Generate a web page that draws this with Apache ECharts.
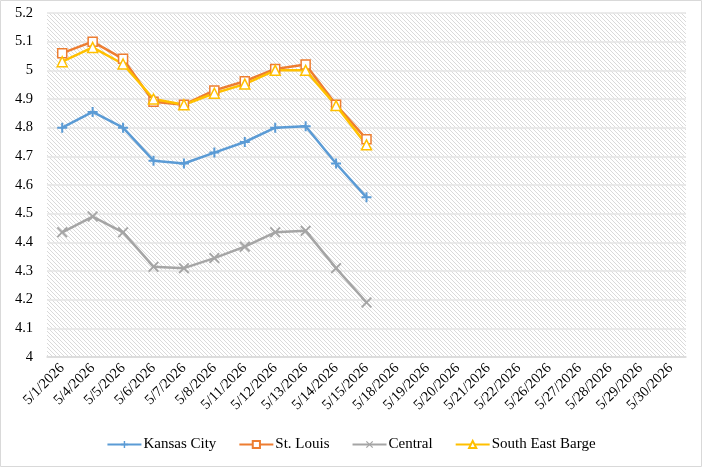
<!DOCTYPE html>
<html><head><meta charset="utf-8">
<script src="https://cdn.jsdelivr.net/npm/echarts@6/dist/echarts.min.js"></script>
<style>html,body{margin:0;padding:0;background:#fff}#c{width:702px;height:467px}</style>
</head><body><div id="c"></div>
<script>
const categories = ['5/1/2026','5/4/2026','5/5/2026','5/6/2026','5/7/2026','5/8/2026','5/11/2026','5/12/2026','5/13/2026','5/14/2026','5/15/2026','5/18/2026','5/19/2026','5/20/2026','5/21/2026','5/22/2026','5/26/2026','5/27/2026','5/28/2026','5/29/2026','5/30/2026'];
const kansasCity = [4.80,4.855,4.80,4.685,4.675,4.713,4.75,4.80,4.805,4.675,4.557];
const stLouis = [5.06,5.10,5.04,4.89,4.88,4.93,4.962,5.005,5.02,4.88,4.76];
const central = [4.435,4.49,4.435,4.315,4.31,4.345,4.385,4.435,4.44,4.31,4.19];
const southEastBarge = [5.03,5.08,5.022,4.90,4.88,4.92,4.952,5.00,5.00,4.877,4.74];

const pc = document.createElement('canvas');
pc.width = 4; pc.height = 4;
const g = pc.getContext('2d');
g.fillStyle = '#ffffff'; g.fillRect(0,0,4,4);
g.fillStyle = '#dadada';
for (let i=0;i<4;i++){ g.fillRect(i,i,1,1); }

const plus = 'path://M4,0H6V4H10V6H6V10H4V6H0V4H4Z';
const cross = 'path://M1.2,0L5,3.8L8.8,0L10,1.2L6.2,5L10,8.8L8.8,10L5,6.2L1.2,10L0,8.8L3.8,5L0,1.2Z';
const font = 'Liberation Serif';
function mk(name, data, color, symbol, size, fill){
  return {name, type:'line', data, symbol, symbolSize:size, showAllSymbol:true,
    lineStyle:{color, width:2.5}, itemStyle:{color: fill||color, borderColor:color, borderWidth: fill?1.5:0},
    emphasis:{disabled:true}, z: 2};
}
const chart = echarts.init(document.getElementById('c'), null, {renderer:'canvas'});
chart.setOption({
  animation:false,
  textStyle:{fontFamily:font},
  color:['#5B9BD5','#ED7D31','#A5A5A5','#FFC000'],
  grid:{left:47,right:16,top:13,bottom:110,show:true,borderWidth:0,
    backgroundColor:{image:pc, repeat:'repeat'}},
  xAxis:{type:'category',data:categories,boundaryGap:true,
    axisLine:{lineStyle:{color:'#d9d9d9',width:1.5}},axisTick:{show:false},
    axisLabel:{rotate:45,color:'#000',fontFamily:font,fontSize:14.5,interval:0,margin:9}},
  yAxis:{type:'value',min:4,max:5.2,interval:0.1,
    axisLine:{show:false},axisTick:{show:false},
    splitLine:{lineStyle:{color:'#e4e4e4',width:1.5}},
    axisLabel:{color:'#000',fontFamily:font,fontSize:14.5,margin:14,
      formatter:v=>String(Math.round(v*10)/10)}},
  legend:{bottom:10,left:'center',itemWidth:34,itemHeight:9,itemGap:22,
    textStyle:{fontFamily:font,fontSize:15,color:'#000',padding:[0,0,0,-3]},
    data:['Kansas City','St. Louis','Central','South East Barge']},
  series:[
    mk('Kansas City',kansasCity,'#5B9BD5',plus,10),
    mk('St. Louis',stLouis,'#ED7D31','rect',9,'#ffffff'),
    mk('Central',central,'#A5A5A5',cross,11),
    mk('South East Barge',southEastBarge,'#FFC000','triangle',10,'#ffffff')
  ],
  graphic:[{type:'rect',shape:{x:0.5,y:0.5,width:701,height:466},style:{fill:'none',stroke:'#d9d9d9',lineWidth:1},silent:true}]
});
</script></body></html>
